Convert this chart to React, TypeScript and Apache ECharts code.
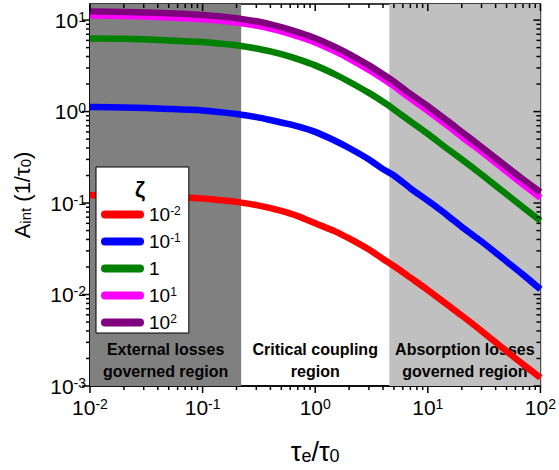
import React, { useEffect, useRef } from "react";
import * as echarts from "echarts";

// τe/τ0 sample positions
const xValues = [0.01, 0.02, 0.05, 0.1, 0.15, 0.2, 0.3, 0.4, 0.5, 0.7, 1, 1.5, 2, 3, 4, 5, 7, 10, 15, 20, 30, 50, 70, 100];
// A_int values for each ζ
const zeta1em2 = [0.122, 0.121, 0.117, 0.112, 0.107, 0.103, 0.095, 0.088, 0.082, 0.072, 0.06, 0.049, 0.041, 0.031, 0.0245, 0.0205, 0.0153, 0.0112, 0.0077, 0.0059, 0.004, 0.0024, 0.00173, 0.00123];
const zeta1em1 = [1.12, 1.11, 1.07, 1.03, 0.98, 0.94, 0.87, 0.81, 0.76, 0.69, 0.6, 0.48, 0.4, 0.3, 0.235, 0.2, 0.145, 0.106, 0.073, 0.055, 0.038, 0.023, 0.0165, 0.0114];
const zeta1 = [6.3, 6.25, 6.0, 5.75, 5.5, 5.3, 4.9, 4.55, 4.25, 3.75, 3.2, 2.55, 2.12, 1.6, 1.28, 1.06, 0.78, 0.57, 0.39, 0.3, 0.205, 0.125, 0.09, 0.064];
const zeta1e1 = [11.2, 11.1, 10.7, 10.2, 9.8, 9.4, 8.7, 8.1, 7.55, 6.65, 5.7, 4.55, 3.8, 2.85, 2.28, 1.9, 1.39, 1.02, 0.7, 0.53, 0.365, 0.222, 0.16, 0.114];
const zeta1e2 = [12.4, 12.3, 11.9, 11.4, 10.9, 10.5, 9.7, 9.0, 8.4, 7.4, 6.35, 5.1, 4.25, 3.2, 2.56, 2.13, 1.56, 1.15, 0.79, 0.6, 0.41, 0.25, 0.182, 0.132];

const seriesNames = ["10^-2", "10^-1", "1", "10^1", "10^2"];
const seriesData = [zeta1em2, zeta1em1, zeta1, zeta1e1, zeta1e2];
const seriesColors = ["#ff0000", "#0000ff", "#008000", "#ff00ff", "#800080"];

const majorX = [0.01, 0.1, 1, 10, 100];
const minorX = [2, 3, 4, 5, 6, 7, 8, 9].flatMap((m) => [m * 0.01, m * 0.1, m * 1, m * 10]);
const majorY = [0.001, 0.01, 0.1, 1, 10];
const minorY = [2, 3, 4, 5, 6, 7, 8, 9].flatMap((m) => [m * 0.001, m * 0.01, m * 0.1, m * 1]);

const regionBounds = [0.01, 0.22, 4.55, 100];
const regionLabels = ["External losses\ngoverned region", "Critical coupling\nregion", "Absorption losses\ngoverned region"];
const regionColors = ["#808080", "rgba(0,0,0,0)", "#c0c0c0"];

const FONT = "'Liberation Sans', Arial, sans-serif";

const powLabel = (v: number) => {
  const e = Math.round(Math.log10(v));
  return "{b|10}{s|" + e + "}";
};
const legendLabel = (name: string) => {
  if (name === "1") return "{b|1}";
  const e = name.split("^")[1];
  return "{b|10}{s|" + e + "}";
};

const tickRich = {
  b: { fontSize: 21, fontFamily: FONT, color: "#000" },
  s: { fontSize: 14, fontFamily: FONT, color: "#000", verticalAlign: "top" },
};

const TICK_STYLE = { stroke: "#000", lineWidth: 1.5 };

export default function App() {
  const ref = useRef<HTMLDivElement>(null);
  useEffect(() => {
    if (!ref.current) return;
    const chart = echarts.init(ref.current, undefined, { renderer: "svg" });
    const lineStyle = { color: "#000", width: 1.5 };
    const option: any = {
      animation: false,
      grid: { left: 90, right: 13, top: 4, bottom: 81, show: true, borderColor: "#000", borderWidth: 1.5, backgroundColor: "transparent" },
      xAxis: {
        type: "log",
        logBase: 10,
        min: 0.01,
        max: 100,
        splitLine: { show: false },
        axisLine: { show: true, lineStyle },
        axisTick: { show: false },
        axisLabel: { customValues: majorX, formatter: powLabel, rich: tickRich, margin: 11 },
        name: "{a|τ}{s|e}{a|/τ}{s|0}",
        nameLocation: "middle",
        nameGap: 52,
        nameTextStyle: {
          rich: {
            a: { fontSize: 27, fontFamily: FONT, color: "#000" },
            s: { fontSize: 18, fontFamily: FONT, color: "#000", verticalAlign: "bottom" },
          },
        },
      },
      yAxis: {
        type: "log",
        logBase: 10,
        min: 0.001,
        max: 15,
        splitLine: { show: false },
        axisLine: { show: true, lineStyle },
        axisTick: { show: false },
        axisLabel: { customValues: majorY, formatter: powLabel, rich: tickRich, margin: 4 },
        name: "{a|A}{s|int}{a| (1/τ}{s|0}{a|)}",
        nameLocation: "middle",
        nameGap: 57,
        nameRotate: 90,
        nameTextStyle: {
          rich: {
            a: { fontSize: 22, fontFamily: FONT, color: "#000" },
            s: { fontSize: 15, fontFamily: FONT, color: "#000", verticalAlign: "bottom" },
          },
        },
      },
      legend: {
        orient: "vertical",
        left: 96,
        top: 167,
        data: seriesNames,
        backgroundColor: "#fff",
        borderColor: "#000",
        borderWidth: 1,
        borderRadius: 0,
        padding: [38, 8, 1, 5],
        itemGap: 8,
        itemWidth: 43,
        itemHeight: 8,
        icon: "path://M4,0 H39 A4,4 0 0 1 39,8 H4 A4,4 0 0 1 4,0 Z",
        formatter: legendLabel,
        textStyle: {
          lineHeight: 19,
          rich: {
            b: { fontSize: 19, fontFamily: FONT, color: "#000" },
            s: { fontSize: 12, fontFamily: FONT, color: "#000", verticalAlign: "top" },
          },
        },
      },
      graphic: [
        {
          type: "text",
          x: 140,
          y: 189,
          z: 100,
          style: {
            text: "ζ",
            font: "bold 22px " + FONT,
            fill: "#000",
            textAlign: "center",
            textVerticalAlign: "middle",
          },
        },
      ],
      series: [
        {
          type: "line",
          name: "regions",
          data: [],
          z: 1,
          silent: true,
          markArea: {
            silent: true,
            label: { show: false },
            data: regionColors.map((c, i) => [
              { xAxis: regionBounds[i], itemStyle: { color: c } },
              { xAxis: regionBounds[i + 1] },
            ]),
          },
        },
        ...seriesNames.map((n, i) => ({
          type: "line",
          name: n,
          data: xValues.map((x, j) => [x, seriesData[i][j]]),
          smooth: 0.3,
          showSymbol: false,
          symbol: "none",
          z: 3,
          color: seriesColors[i],
          lineStyle: { width: 6.5, color: seriesColors[i] },
        })),
        {
          type: "line",
          name: "regionLabels",
          data: [],
          z: 10,
          silent: true,
          markArea: {
            silent: true,
            itemStyle: { color: "rgba(0,0,0,0)" },
            label: {
              show: true,
              position: "insideBottom",
              distance: 4,
              fontFamily: FONT,
              fontWeight: "bold",
              fontSize: 16,
              lineHeight: 22,
              color: "#000",
              align: "center",
            },
            data: regionLabels.map((t, i) => [
              { name: t, xAxis: regionBounds[i] },
              { xAxis: regionBounds[i + 1] },
            ]),
          },
        },
        {
          type: "custom",
          name: "xTicks",
          silent: true,
          clip: false,
          z: 20,
          data: [...majorX.map((v) => [v, 1, 1]), ...minorX.map((v) => [v, 1, 0])],
          renderItem: (params: any, api: any) => {
            const cs = params.coordSys;
            const px = api.coord([api.value(0), 1])[0];
            const major = api.value(2) === 1;
            const len = major ? 7 : 4;
            const bottom = cs.y + cs.height;
            return {
              type: "group",
              children: [
                { type: "line", shape: { x1: px, y1: bottom, x2: px, y2: bottom + len }, style: TICK_STYLE },
                { type: "line", shape: { x1: px, y1: cs.y, x2: px, y2: cs.y + len }, style: TICK_STYLE },
              ],
            };
          },
        },
        {
          type: "custom",
          name: "yTicks",
          silent: true,
          clip: false,
          z: 20,
          data: [...majorY.map((v) => [1, v, 1]), ...minorY.map((v) => [1, v, 0])],
          renderItem: (params: any, api: any) => {
            const cs = params.coordSys;
            const py = api.coord([1, api.value(1)])[1];
            const major = api.value(2) === 1;
            const right = cs.x + cs.width;
            return {
              type: "group",
              children: [
                { type: "line", shape: { x1: cs.x - (major ? 8 : 4), y1: py, x2: cs.x, y2: py }, style: TICK_STYLE },
                { type: "line", shape: { x1: right - (major ? 7 : 4), y1: py, x2: right, y2: py }, style: TICK_STYLE },
              ],
            };
          },
        },
      ],
    };
    chart.setOption(option);
    return () => chart.dispose();
  }, []);
  return <div ref={ref} style={{ width: 559, height: 470, position: "absolute", left: 0, top: 0 }} />;
}
